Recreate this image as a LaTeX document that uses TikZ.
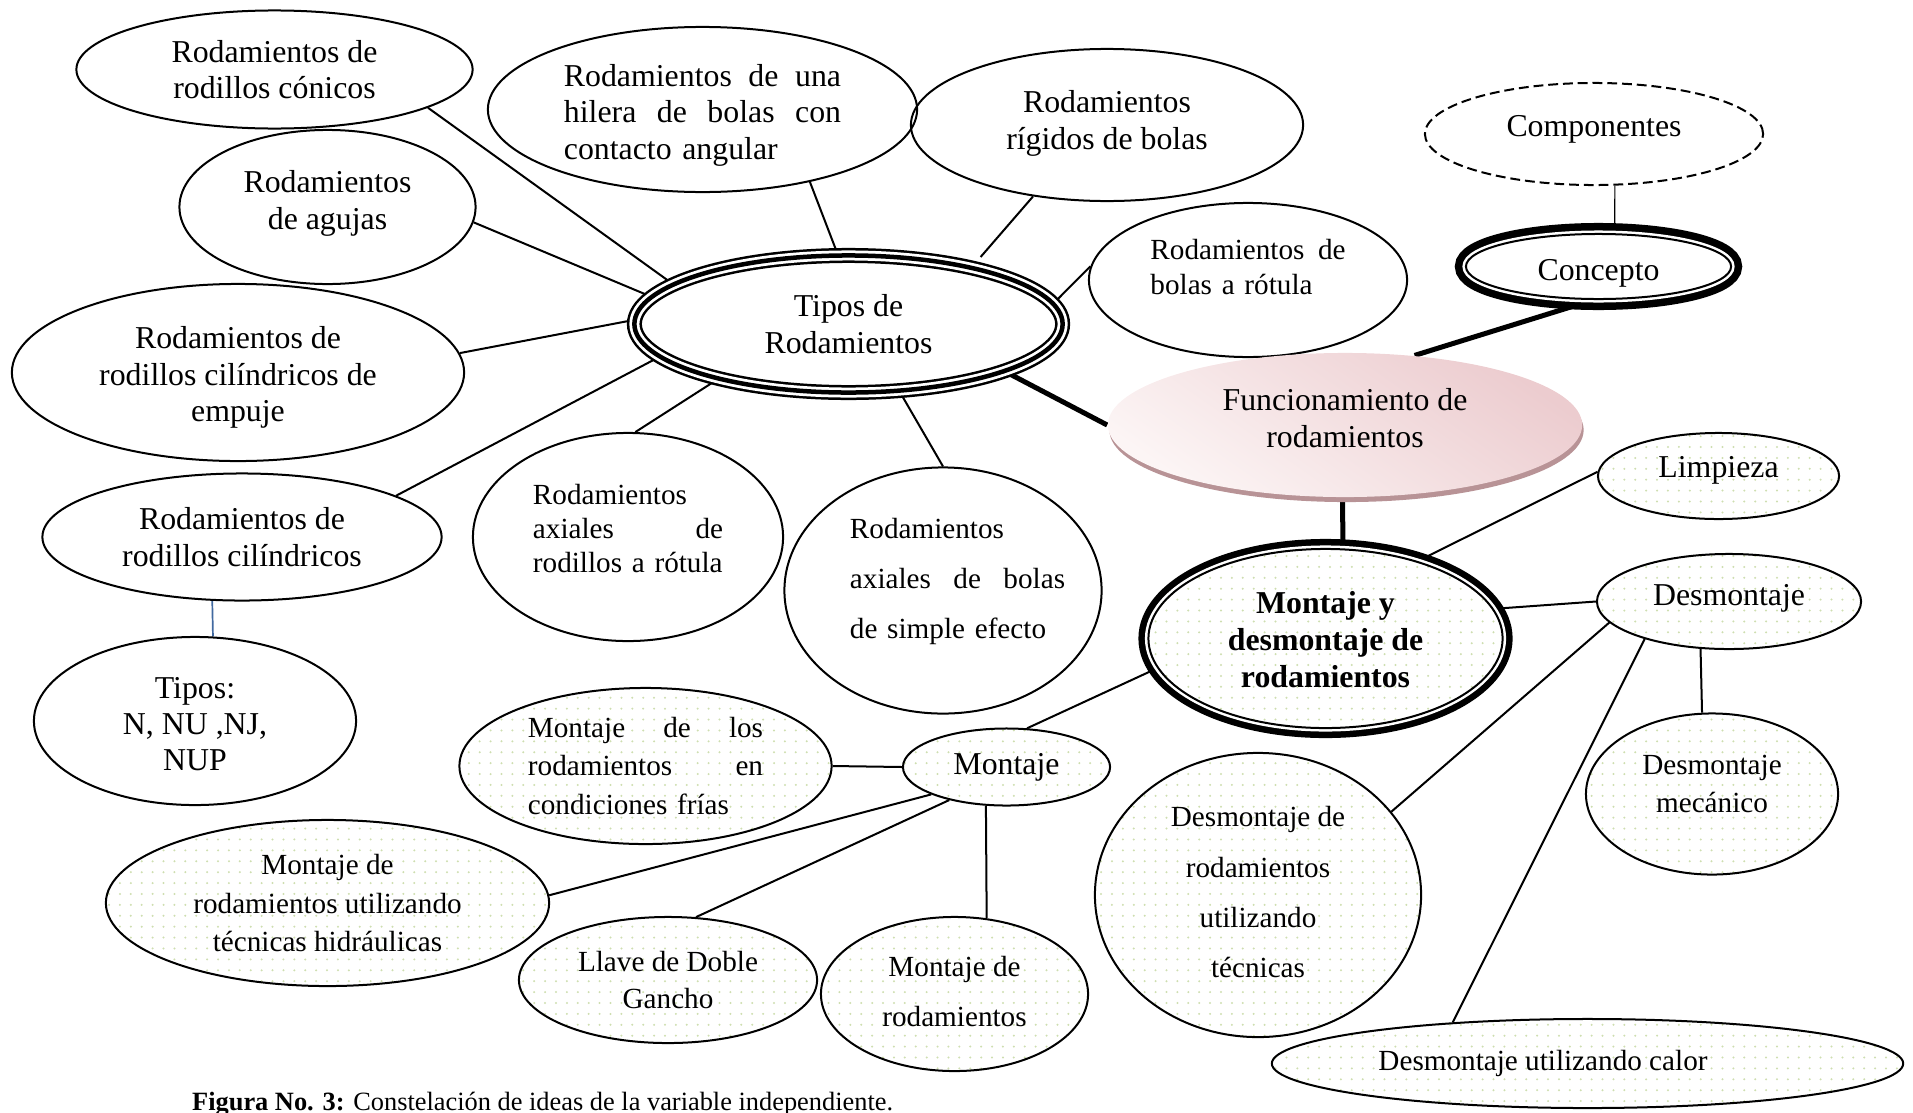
\documentclass[tikz,border=0pt]{standalone}
\usepackage{fontspec}
\setmainfont{Liberation Serif}
\usetikzlibrary{shapes.geometric,patterns.meta,shadows,backgrounds}

\definecolor{verdepunto}{RGB}{206,222,176}
\definecolor{rosaclaro}{RGB}{252,245,245}
\definecolor{rosa}{RGB}{236,204,207}
\definecolor{sombra}{RGB}{184,147,150}
\definecolor{azul}{RGB}{65,105,160}

\tikzdeclarepattern{
  name=puntos, type=uncolored,
  bounding box={(-0.5pt,-0.5pt) and (0.5pt,0.5pt)},
  tile size={(3.1pt,3.1pt)},
  code={\fill (0pt,0pt) circle (0.32pt);}
}

\newcommand{\letra}[1]{\fontsize{9.05pt}{#1}\selectfont}
\newcommand{\chica}[1]{\fontsize{8.3pt}{#1}\selectfont}
\newcommand{\subir}[1]{\rule[-#1]{0pt}{0pt}}
\newcommand{\bajar}[1]{\rule{0pt}{#1}}

\tikzset{
  idea/.style={ellipse, draw, line width=0.02cm, inner sep=0pt, align=center, font={\letra{10.4pt}}},
  punteada/.style={idea, pattern=puntos, pattern color=verdepunto},
  medida/.style 2 args={minimum width=#1cm, minimum height=#2cm},
  triple/.style={idea, line width=0.045cm, preaction={draw, line width=0.15cm}, preaction={draw=white, line width=0.10cm}},
  doble/.style={idea, preaction={draw, line width=#1}, preaction={draw=white, line width=0.07cm}, preaction={fill=white}},
  rosada/.style={ellipse, inner sep=0pt, align=center, font={\letra{10.4pt}}, top color=rosa, bottom color=rosaclaro, shading angle=-35,
    drop shadow={shadow xshift=0.015cm, shadow yshift=-0.05cm, fill=sombra, opacity=1}},
  enlace/.style={line width=0.02cm},
  grueso/.style={line width=0.05cm},
  fino/.style={line width=0.012cm}
}

\begin{document}
\begin{tikzpicture}[x=0.01cm, y=-0.01cm]
\useasboundingbox (0,0) rectangle (1913,1112);

\node[idea, medida={3.96}{1.18}] (conicos) at (274.5,69.5) {Rodamientos de\\rodillos cónicos};
\node[idea, medida={4.29}{1.65}, text width=2.77cm, align=left] (hilera) at (702.5,109.5) {\bajar{9.6pt}Rodamientos\hfill de\hfill una\\hilera\hfill de\hfill bolas\hfill con\\contacto angular};
\node[idea, medida={3.92}{1.52}] (rigidos) at (1107,125) {Rodamientos\\rígidos de bolas\subir{3pt}};
\node[idea, medida={3.38}{1.02}, dash pattern=on 2.8pt off 1.4pt] (componentes) at (1594,134) {Componentes\subir{4.6pt}};
\node[idea, medida={2.96}{1.54}] (agujas) at (327.5,207) {Rodamientos\\de agujas\subir{4pt}};
\node[idea, medida={3.18}{1.54}, font={\chica{9.7pt}}, text width=1.95cm, align=left] (bolasrot) at (1248,280) {Rodamientos\hfill de\\bolas a rótula\subir{7.5pt}};
\node[doble=0.22cm, medida={2.65}{0.65}] (concepto) at (1598.5,266.5) {\bajar{10pt}Concepto};
\node[triple, medida={4.28}{1.37}] (tipos) at (848.5,324) {Tipos de\\Rodamientos};
\node[idea, medida={4.52}{1.77}] (empuje) at (238,372.5) {\bajar{9.2pt}Rodamientos de\\rodillos cilíndricos de\\empuje};
\node[rosada, medida={4.74}{1.44}] (func) at (1345,425) {Funcionamiento de\\rodamientos\subir{4pt}};
\node[punteada, medida={2.41}{0.86}] (limpieza) at (1718.5,476) {Limpieza\subir{5pt}};
\node[idea, medida={3.99}{1.27}] (cilindricos) at (242,537) {Rodamientos de\\rodillos cilíndricos};
\node[idea, medida={3.10}{2.08}, font={\chica{9.7pt}}, text width=1.9cm, align=left] (axrot) at (628,537) {Rodamientos\\axiales\hfill de\\rodillos a rótula\subir{5pt}};
\node[idea, medida={3.17}{2.46}, font={\chica{14.3pt}}, text width=2.44cm, inner xsep=-0.14cm, align=left] (axbolas) at (943,590.5) {\leftskip=0.29cm Rodamientos\\axiales\hfill de\hfill bolas\\de simple efecto\subir{7pt}\par};
\node[doble=0.20cm, pattern=puntos, pattern color=verdepunto, medida={3.54}{1.79}, font={\bfseries\letra{10.6pt}}] (mydesm) at (1325.5,638.5) {\bajar{7pt}Montaje y\\desmontaje de\\rodamientos};
\node[punteada, medida={2.64}{0.95}] (desmontaje) at (1729,601.5) {Desmontaje\subir{3.7pt}};
\node[idea, medida={3.22}{1.68}, font={\letra{10.2pt}}] (tiposN) at (195,721) {\bajar{7.6pt}Tipos:\\N, NU ,NJ,\\NUP};
\node[punteada, medida={3.72}{1.56}, font={\chica{10.9pt}}, text width=2.35cm, align=left] (frias) at (645.5,766) {Montaje\hfill de\hfill los\\rodamientos\hfill en\\condiciones frías};
\node[punteada, medida={2.07}{0.77}] (montaje) at (1006.5,767) {Montaje};
\node[punteada, medida={2.52}{1.61}, font={\chica{10.8pt}}] (desmec) at (1712,794) {Desmontaje\\mecánico\subir{5.7pt}};
\node[punteada, medida={3.26}{2.84}, font={\chica{14.3pt}}] (destec) at (1258,895) {Desmontaje de\\rodamientos\\utilizando\\técnicas\subir{1.7pt}};
\node[punteada, medida={4.43}{1.66}, font={\chica{10.9pt}}] (hidraulicas) at (327.5,903) {Montaje de\\rodamientos utilizando\\técnicas hidráulicas};
\node[punteada, medida={2.98}{1.26}, font={\chica{10.8pt}}] (llave) at (668,980) {Llave de Doble\\Gancho};
\node[punteada, medida={2.67}{1.54}, font={\chica{14.3pt}}] (montrod) at (954.5,994) {Montaje de\\rodamientos\subir{1.7pt}};
\node[punteada, medida={6.31}{0.89}, font={\chica{10.8pt}}] (calor) at (1587.5,1063.5) {Desmontaje utilizando calor\hspace*{0.89cm}};
\node[anchor=base west, inner sep=0pt, font={\fontsize{7.5pt}{9pt}\selectfont}] (pie) at (191.5,1110) {\textbf{Figura No. 3:} Constelación de ideas de la variable independiente.};

\begin{scope}[on background layer]
\draw[enlace] (conicos.-14) -- (tipos.167.5);
\draw[enlace] (agujas.-6.5) -- (tipos.172);
\draw[enlace] (empuje.5.5) -- (tipos.179);
\draw[enlace] (cilindricos.15) -- (tipos.190);
\draw[enlace] (axrot.86.6) -- (tipos.203);
\draw[enlace] (axbolas.90) -- (tipos.-53);
\draw[enlace] (hilera.-34) -- (tipos.99.5);
\draw[enlace, shorten >=0.12cm] (rigidos.-136) -- (tipos.25.7);
\draw[enlace] (bolasrot.175) -- (tipos.6.8);
\draw[grueso] (tipos.-17.7) -- (func.180);
\draw[grueso] (func.45.4) -- (concepto.-99.6);
\draw[fino] (concepto.64.4) -- (componentes.-68.4);
\draw[grueso] (func.-92.4) -- (mydesm.79.5);
\draw[enlace] (mydesm.40) -- (limpieza.178.6);
\draw[enlace] (mydesm.10.2) -- (desmontaje.180);
\draw[enlace] (mydesm.190.8) -- (montaje.62.1);
\draw[enlace] (desmontaje.-121.1) -- (desmec.97.8);
\draw[enlace] (desmontaje.-170) -- (destec.32.3);
\draw[enlace] (desmontaje.-156.6) -- (calor.163.2);
\draw[azul, line width=0.017cm] (cilindricos.-115) -- (tiposN.78);
\draw[enlace] (montaje.180) -- (frias.0);
\draw[enlace] (montaje.-160) -- (hidraulicas.2.3);
\draw[enlace] (montaje.-150.6) -- (llave.66.8);
\draw[enlace] (montaje.-118.5) -- (montrod.67.2);
\end{scope}
\end{tikzpicture}
\end{document}
